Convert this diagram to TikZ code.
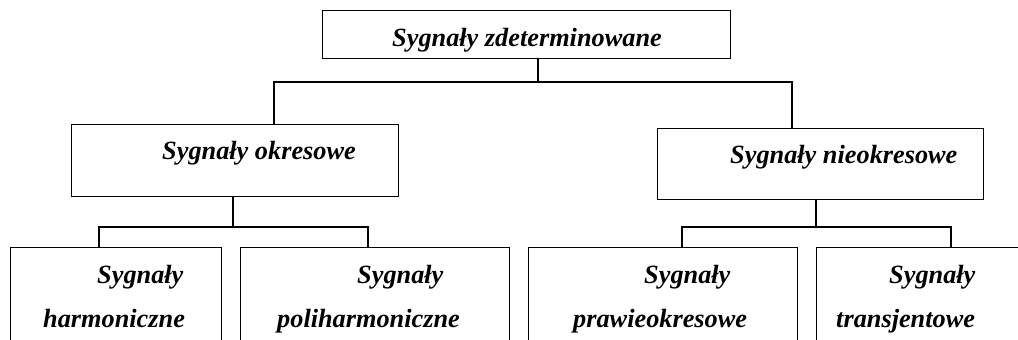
\documentclass[tikz,border=0pt]{standalone}
\usepackage{fontspec}
\setmainfont{Liberation Serif}
\begin{document}
\begin{tikzpicture}[x=1pt,y=-1pt,
  box/.style={draw,line width=1.3pt,rectangle,inner sep=0pt,anchor=north west},
  lbl/.style={anchor=base west,inner sep=0pt,font=\fontsize{26.3}{30}\selectfont\bfseries\itshape},
  conn/.style={line width=1.3pt}]
\useasboundingbox (0,0) rectangle (1018,340);
\clip (0,0) rectangle (1018,340);
% boxes
\node[box,minimum width=408pt,minimum height=48pt] (top) at (322,10) {};
\node[box,minimum width=327pt,minimum height=72pt] (L) at (71,124) {};
\node[box,minimum width=326pt,minimum height=71pt] (R) at (657,128) {};
\node[box,minimum width=211pt,minimum height=120pt] (B1) at (10,247) {};
\node[box,minimum width=269pt,minimum height=120pt] (B2) at (240,247) {};
\node[box,minimum width=269pt,minimum height=120pt] (B3) at (528,247) {};
\node[box,minimum width=230pt,minimum height=120pt] (B4) at (816,247) {};
% labels
\node[lbl] (tTop) at (392,46) {Sygnały zdeterminowane};
\node[lbl] (tL) at (162,159) {Sygnały okresowe};
\node[lbl] (tR) at (730,163) {Sygnały nieokresowe};
\node[lbl] (tB1a) at (97,283) {Sygnały};
\node[lbl] (tB1b) at (43,327) {harmoniczne};
\node[lbl] (tB2a) at (357,283) {Sygnały};
\node[lbl] (tB2b) at (277,327) {poliharmoniczne};
\node[lbl] (tB3a) at (644,283) {Sygnały};
\node[lbl] (tB3b) at (573,327) {prawieokresowe};
\node[lbl] (tB4a) at (889,283) {Sygnały};
\node[lbl] (tB4b) at (836,327) {transjentowe};
% junctions
\coordinate (j1) at (538,82);
\coordinate (jL) at (274,82);
\coordinate (jR) at (792,82);
\coordinate (k1) at (233,227);
\coordinate (kL) at (99,227);
\coordinate (kR) at (368,227);
\coordinate (m1) at (816,227);
\coordinate (mL) at (682,227);
\coordinate (mR) at (951,227);
% connectors
\draw[conn] (top.south -| j1) -- (j1);
\draw[conn] (L.north -| jL) -- (jL) -- (jR) -- (R.north -| jR);
\draw[conn] (L.south -| k1) -- (k1);
\draw[conn] (B1.north -| kL) -- (kL) -- (kR) -- (B2.north -| kR);
\draw[conn] (R.south -| m1) -- (m1);
\draw[conn] (B3.north -| mL) -- (mL) -- (mR) -- (B4.north -| mR);
\end{tikzpicture}
\end{document}
